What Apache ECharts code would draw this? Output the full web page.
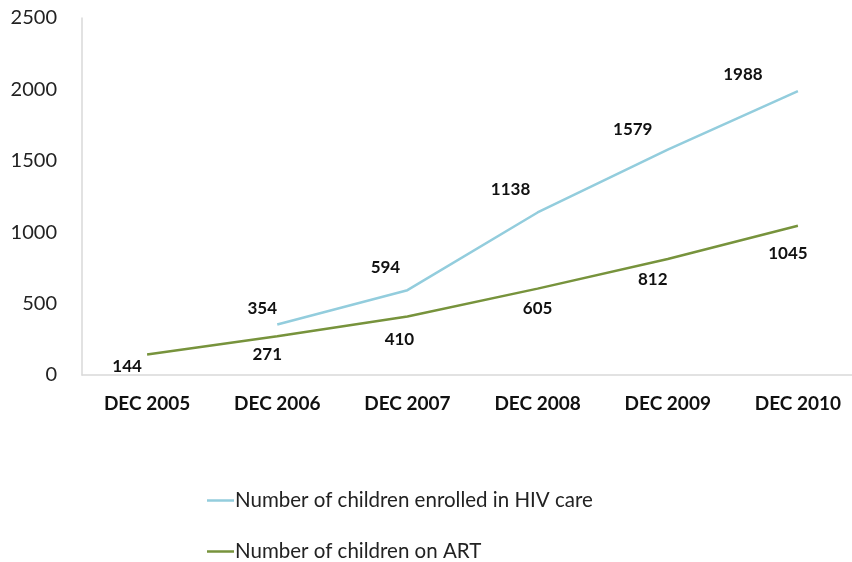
<!DOCTYPE html>
<html>
<head>
<meta charset="utf-8">
<script src="https://cdn.jsdelivr.net/npm/echarts@6/dist/echarts.min.js"></script>
<style>html,body{margin:0;padding:0;background:#fff}#c{width:852px;height:562px}</style>
</head>
<body>
<div id="c"></div>
<script>
const categories = ['DEC 2005', 'DEC 2006', 'DEC 2007', 'DEC 2008', 'DEC 2009', 'DEC 2010'];
const enrolled = [null, 354, 594, 1138, 1579, 1988];
const onArt = [144, 271, 410, 605, 812, 1045];
const yTicks = { min: 0, max: 2500, interval: 500 };

const enrolledLabelShift = [[0,0], [-15,-16], [-22,-23], [-27,-23], [-35,-20], [-55,-17]];
const artLabelShift = [[-20,12], [-10,18], [-8,23], [0,20], [-15,20], [-10,28]];

const font = 'Lato, "Open Sans", sans-serif';
const nameA = 'Number of children enrolled in HIV care';
const nameB = 'Number of children on ART';
function pts(values, shifts) {
  return values.map((v, i) => v === null ? null : {
    value: v,
    label: { offset: shifts[i] }
  });
}
const legendBase = {
  left: 202, icon: 'rect', itemWidth: 27, itemHeight: 2.5, itemGap: 0,
  textStyle: { fontFamily: font, fontSize: 20.5, color: '#222', padding: [0,0,0,-4] }
};
const chart = echarts.init(document.getElementById('c'));
chart.setOption({
  animation: false,
  grid: { left: 82, top: 18, height: 357, width: 781, outerBoundsMode: 'none', containLabel: false },
  xAxis: {
    type: 'category', data: categories, boundaryGap: true,
    axisLine: { lineStyle: { color: '#d9d9d9', width: 1.5 } },
    axisTick: { show: false },
    axisLabel: { fontFamily: font, fontWeight: 'bold', fontSize: 19, color: '#111', margin: 19 }
  },
  yAxis: {
    type: 'value', min: yTicks.min, max: yTicks.max, interval: yTicks.interval,
    axisLine: { show: true, lineStyle: { color: '#d9d9d9', width: 1.5 } },
    axisTick: { show: false },
    splitLine: { show: false },
    axisLabel: { fontFamily: font, fontSize: 20, color: '#222', margin: 25, formatter: v => String(v) }
  },
  legend: [
    Object.assign({}, legendBase, { top: 485, data: [nameA] }),
    Object.assign({}, legendBase, { top: 536, data: [nameB] })
  ],
  series: [
    {
      name: nameA, type: 'line',
      data: pts(enrolled, enrolledLabelShift), showSymbol: true, symbol: 'circle', symbolSize: 0.01,
      color: '#93cddd',
      itemStyle: { color: '#93cddd' },
      lineStyle: { color: '#93cddd', width: 2.5 },
      label: { show: true, position: 'inside', fontFamily: font, fontWeight: 'bold', fontSize: 17, color: '#111' }
    },
    {
      name: nameB, type: 'line',
      data: pts(onArt, artLabelShift), showSymbol: true, symbol: 'circle', symbolSize: 0.01,
      color: '#77933c',
      itemStyle: { color: '#77933c' },
      lineStyle: { color: '#77933c', width: 2.5 },
      label: { show: true, position: 'inside', fontFamily: font, fontWeight: 'bold', fontSize: 17, color: '#111' }
    }
  ]
});
</script>
</body>
</html>
